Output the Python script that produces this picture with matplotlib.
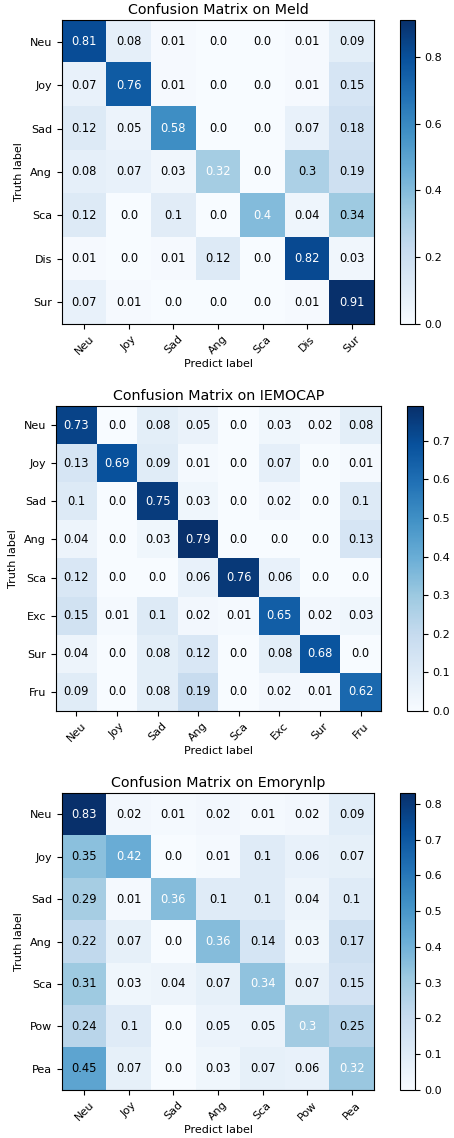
import numpy as np
import matplotlib
matplotlib.use("Agg")
import matplotlib.pyplot as plt

meld_labels = ["Neu", "Joy", "Sad", "Ang", "Sca", "Dis", "Sur"]
meld_values = [
    [0.81, 0.08, 0.01, 0.0, 0.0, 0.01, 0.09],
    [0.07, 0.76, 0.01, 0.0, 0.0, 0.01, 0.15],
    [0.12, 0.05, 0.58, 0.0, 0.0, 0.07, 0.18],
    [0.08, 0.07, 0.03, 0.32, 0.0, 0.3, 0.19],
    [0.12, 0.0, 0.1, 0.0, 0.4, 0.04, 0.34],
    [0.01, 0.0, 0.01, 0.12, 0.0, 0.82, 0.03],
    [0.07, 0.01, 0.0, 0.0, 0.0, 0.01, 0.91],
]

iemocap_labels = ["Neu", "Joy", "Sad", "Ang", "Sca", "Exc", "Sur", "Fru"]
iemocap_values = [
    [0.73, 0.0, 0.08, 0.05, 0.0, 0.03, 0.02, 0.08],
    [0.13, 0.69, 0.09, 0.01, 0.0, 0.07, 0.0, 0.01],
    [0.1, 0.0, 0.75, 0.03, 0.0, 0.02, 0.0, 0.1],
    [0.04, 0.0, 0.03, 0.79, 0.0, 0.0, 0.0, 0.13],
    [0.12, 0.0, 0.0, 0.06, 0.76, 0.06, 0.0, 0.0],
    [0.15, 0.01, 0.1, 0.02, 0.01, 0.65, 0.02, 0.03],
    [0.04, 0.0, 0.08, 0.12, 0.0, 0.08, 0.68, 0.0],
    [0.09, 0.0, 0.08, 0.19, 0.0, 0.02, 0.01, 0.62],
]

emory_labels = ["Neu", "Joy", "Sad", "Ang", "Sca", "Pow", "Pea"]
emory_values = [
    [0.83, 0.02, 0.01, 0.02, 0.01, 0.02, 0.09],
    [0.35, 0.42, 0.0, 0.01, 0.1, 0.06, 0.07],
    [0.29, 0.01, 0.36, 0.1, 0.1, 0.04, 0.1],
    [0.22, 0.07, 0.0, 0.36, 0.14, 0.03, 0.17],
    [0.31, 0.03, 0.04, 0.07, 0.34, 0.07, 0.15],
    [0.24, 0.1, 0.0, 0.05, 0.05, 0.3, 0.25],
    [0.45, 0.07, 0.0, 0.03, 0.07, 0.06, 0.32],
]

titles = ["Confusion Matrix on Meld", "Confusion Matrix on IEMOCAP", "Confusion Matrix on Emorynlp"]

W, H = 454, 1138
fig = plt.figure(figsize=(W / 100, H / 100), dpi=100)


def px_axes(left, top, right, bottom):
    return fig.add_axes([left / W, 1 - bottom / H, (right - left) / W, (bottom - top) / H])


layouts = [
    ((62, 20, 374, 324), (400, 20, 415, 324), [0.0, 0.2, 0.4, 0.6, 0.8]),
    ((56, 406, 381, 711), (407, 406, 423, 711), [0.0, 0.1, 0.2, 0.3, 0.4, 0.5, 0.6, 0.7]),
    ((62, 793, 374, 1090), (400, 793, 415, 1090), [0.0, 0.1, 0.2, 0.3, 0.4, 0.5, 0.6, 0.7, 0.8]),
]

datasets = [(meld_labels, meld_values), (iemocap_labels, iemocap_values), (emory_labels, emory_values)]

fs = 8
fs_annot = 8.3
for (labels, values), title, (axp, caxp, cticks) in zip(datasets, titles, layouts):
    cm = np.array(values)
    ax = px_axes(*axp)
    cax = px_axes(*caxp)
    im = ax.imshow(cm, interpolation="nearest", cmap="Blues", vmin=0, vmax=cm.max(), aspect="auto")
    ax.set_title(title, fontsize=10.3, pad=4)
    n = len(labels)
    ax.set_xticks(np.arange(n))
    ax.set_xticklabels(labels, rotation=45, fontsize=fs)
    ax.set_yticks(np.arange(n))
    ax.set_yticklabels(labels, fontsize=fs)
    ax.set_xlabel("Predict label", fontsize=fs, labelpad=2)
    ax.set_ylabel("Truth label", fontsize=fs)
    for i in range(n):
        for j in range(n):
            ax.text(j, i, str(cm[i, j]), ha="center", va="center", fontsize=fs_annot,
                    color="white" if i == j else "black")
    cb = fig.colorbar(im, cax=cax)
    cb.set_ticks(cticks)
    cb.ax.tick_params(labelsize=fs)

fig.savefig("out.png", dpi=100)
